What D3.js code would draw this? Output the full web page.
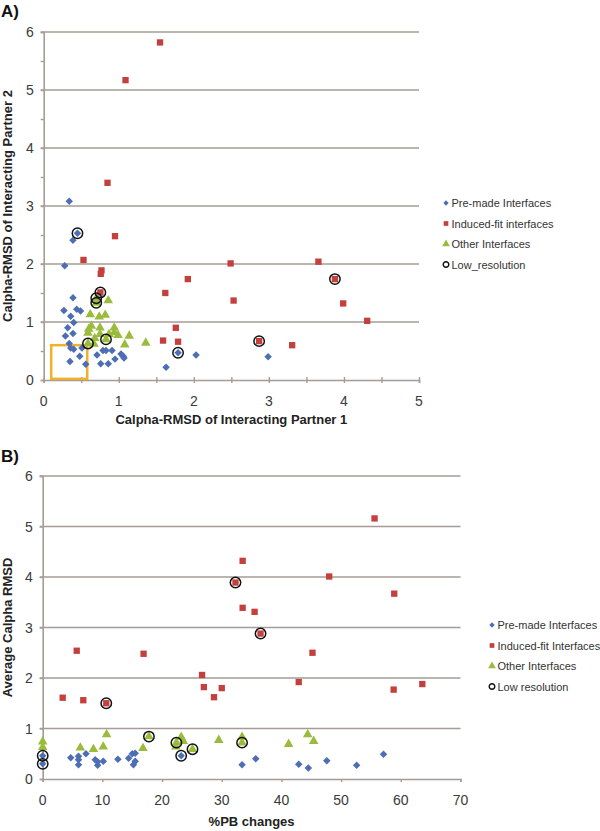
<!DOCTYPE html>
<html>
<head>
<meta charset="utf-8">
<script src="https://cdn.jsdelivr.net/npm/d3@7"></script>
<style>
	body { margin: 0; background: #fff; }
	svg text { font-family: "Liberation Sans", Arial, sans-serif; }
</style>
</head>
<body>
<div id="chart"></div>
<script>
// panel A: Calpha-RMSD partner 1 (x) vs partner 2 (y)
var aPremade = [[0.34,3.08],[0.45,2.53],[0.39,2.41],[0.28,1.97],[0.39,1.42],[0.27,1.20],[0.44,1.22],[0.49,1.19],
	[0.36,1.10],[0.40,0.99],[0.32,0.90],[0.29,0.76],[0.39,0.80],[0.34,0.63],[0.36,0.55],[0.40,0.53],[0.51,0.55],
	[0.48,0.41],[0.35,0.32],[0.56,0.27],[0.71,0.43],[0.76,0.28],[0.79,0.51],[0.83,0.51],[0.86,0.28],[0.91,0.51],
	[0.95,0.36],[1.03,0.45],[1.06,0.41],[1.07,0.38],[1.63,0.22],[1.79,0.47],[2.03,0.43],[2.99,0.40]];
var aInduced = [[1.55,5.82],[1.09,5.17],[0.85,3.40],[0.95,2.48],[0.53,2.07],[0.77,1.89],[0.76,1.83],[0.755,1.51],
	[1.92,1.74],[1.62,1.50],[1.76,0.90],[1.79,0.66],[1.59,0.68],[2.49,2.01],[3.66,2.04],[3.88,1.74],[2.53,1.37],
	[3.99,1.32],[4.31,1.02],[2.87,0.67],[3.31,0.60]];
var aOther = [[0.70,1.41],[0.70,1.33],[0.86,1.37],[0.62,1.13],[0.74,1.09],[0.82,1.12],[0.635,0.93],[0.60,0.88],
	[0.75,0.90],[0.94,0.90],[0.94,0.82],[0.59,0.81],[0.75,0.79],[0.87,0.79],[0.99,0.77],[1.14,0.76],[0.68,0.72],
	[0.83,0.70],[0.59,0.63],[0.67,0.62],[1.08,0.61],[1.36,0.64]];
var aLowRes = [[0.45,2.53],[0.755,1.51],[0.70,1.41],[0.70,1.33],[0.59,0.63],[0.83,0.70],[1.79,0.47],[3.88,1.74],[2.87,0.67]];
var aBox = [0.1, 0.02, 0.58, 0.6]; // x0, y0, x1, y1 in data units

// panel B: %PB changes (x) vs average Calpha RMSD (y)
var bPremade = [[0,0.46],[0,0.30],[4.7,0.42],[6.0,0.45],[6.0,0.38],[6.0,0.28],[7.25,0.50],[8.8,0.38],[9.2,0.27],
	[9.2,0.34],[10.15,0.35],[12.6,0.39],[14.4,0.41],[15.0,0.50],[15.5,0.51],[15.5,0.35],[15.2,0.28],[23.2,0.46],
	[33.4,0.28],[35.7,0.40],[42.9,0.29],[44.5,0.22],[47.6,0.36],[52.6,0.27],[57.1,0.49]];
var bInduced = [[33.5,4.32],[32.3,3.89],[33.5,3.39],[35.5,3.31],[55.6,5.16],[48.0,4.01],[58.9,3.67],[36.5,2.88],
	[5.7,2.54],[16.9,2.48],[3.35,1.61],[6.8,1.56],[10.65,1.50],[26.7,2.06],[27.0,1.82],[28.7,1.62],[30.0,1.80],
	[45.2,2.50],[42.9,1.92],[58.8,1.77],[63.6,1.88]];
var bOther = [[0,0.74],[0,0.63],[6.3,0.62],[8.5,0.59],[10.15,0.64],[10.7,0.88],[16.8,0.61],[17.8,0.84],[22.4,0.72],
	[22.3,0.64],[23.2,0.83],[23.55,0.75],[25.1,0.59],[29.5,0.77],[33.4,0.83],[33.4,0.72],[41.2,0.69],[44.4,0.88],[45.4,0.75]];
var bLowRes = [[0,0.46],[0,0.30],[10.65,1.50],[17.8,0.84],[22.4,0.72],[23.2,0.46],[25.1,0.59],[33.4,0.72],[32.3,3.89],[36.5,2.88]];

var yTicks = [0,1,2,3,4,5,6];
var aXTicks = [0,1,2,3,4,5];
var bXTicks = [0,10,20,30,40,50,60,70];
var legendA = ["Pre-made Interfaces","Induced-fit interfaces","Other Interfaces","Low_resolution"];
var legendB = ["Pre-made Interfaces","Induced-fit Interfaces","Other Interfaces","Low resolution"];

var colors = { premade: "#4d6db5", induced: "#c3403d", other: "#9bbb3c", grid: "#a59c95" };

var svg = d3.select("#chart").append("svg").attr("width", 600).attr("height", 831);

function drawMarkers(g, x, y, data, kind) {
	var sym;
	if (kind == "premade") sym = d3.symbol().type(d3.symbolSquare).size(28);
	else if (kind == "induced") sym = d3.symbol().type(d3.symbolSquare).size(40);
	else sym = d3.symbol().type(d3.symbolTriangle).size(40);
	g.selectAll("path." + kind).data(data).enter().append("path")
		.attr("class", kind)
		.attr("d", sym)
		.attr("transform", function(d) {
			return "translate(" + x(d[0]) + "," + y(d[1]) + ")" + (kind == "premade" ? " rotate(45)" : "");
		})
		.attr("fill", colors[kind]);
}

function drawPanel(opt) {
	var g = svg.append("g");
	var x = opt.x, y = opt.y;
	var x0 = x.range()[0], x1 = x.range()[1];

	// gridlines
	g.selectAll("line.grid").data(yTicks.slice(1)).enter().append("line")
		.attr("x1", x0 - 3).attr("x2", x1)
		.attr("y1", function(d) { return y(d); }).attr("y2", function(d) { return y(d); })
		.attr("stroke", colors.grid).attr("stroke-width", 1.6);

	// y axis
	var yAxis = d3.axisLeft(y).tickValues(opt.yMinor).tickSize(3).tickFormat("");
	var ya = g.append("g").attr("transform", "translate(" + x0 + ",0)").call(yAxis);
	ya.select(".domain").attr("stroke", colors.grid).attr("stroke-width", 1.6);
	ya.selectAll(".tick line").attr("stroke", colors.grid).attr("stroke-width", 1.4);
	g.selectAll("text.ylab").data(yTicks).enter().append("text")
		.attr("x", x0 - 10).attr("y", function(d) { return y(d) + 5; })
		.attr("text-anchor", "end").attr("font-size", 14).attr("fill", "#3a3a3a")
		.text(function(d) { return d; });

	// x axis
	var xa = g.append("g").attr("transform", "translate(0," + y(0) + ")")
		.call(d3.axisBottom(x).tickValues(opt.xTickMarks).tickSize(opt.xTickSize).tickFormat(""));
	xa.select(".domain").attr("stroke", colors.grid).attr("stroke-width", 1.6);
	xa.selectAll(".tick line").attr("stroke", colors.grid).attr("stroke-width", 1.4)
		.attr("y1", opt.xTickUp ? -3 : 0);
	g.selectAll("text.xlab").data(opt.xTicks).enter().append("text")
		.attr("x", function(d) { return x(d); }).attr("y", y(0) + 26)
		.attr("text-anchor", "middle").attr("font-size", 14).attr("fill", "#3a3a3a")
		.text(function(d) { return d; });

	if (opt.box) {
		g.append("rect")
			.attr("x", x(opt.box[0])).attr("y", y(opt.box[3]))
			.attr("width", x(opt.box[2]) - x(opt.box[0])).attr("height", y(opt.box[1]) - y(opt.box[3]))
			.attr("fill", "none").attr("stroke", "#f2b12a").attr("stroke-width", 2.5);
	}

	drawMarkers(g, x, y, opt.premade, "premade");
	drawMarkers(g, x, y, opt.induced, "induced");
	drawMarkers(g, x, y, opt.other, "other");
	g.selectAll("circle.low").data(opt.lowres).enter().append("circle")
		.attr("cx", function(d) { return x(d[0]); }).attr("cy", function(d) { return y(d[1]); })
		.attr("r", 5.2).attr("fill", "none").attr("stroke", "#111").attr("stroke-width", 1.5);

	// titles
	g.append("text").attr("x", 1).attr("y", opt.labelY).attr("font-size", 17).attr("font-weight", "bold")
		.attr("fill", "#111").text(opt.label);
	g.append("text").attr("x", (x0 + x1) / 2).attr("y", opt.xTitleY)
		.attr("text-anchor", "middle").attr("font-size", 13).attr("font-weight", "bold").attr("fill", "#222")
		.text(opt.xTitle);
	g.append("text").attr("transform", "translate(12," + (y(0) + y(6)) / 2 + ") rotate(-90)")
		.attr("text-anchor", "middle").attr("font-size", 13).attr("font-weight", "bold").attr("fill", "#222")
		.text(opt.yTitle);

	// legend
	var lg = g.append("g").attr("transform", "translate(" + opt.legendX + "," + opt.legendY + ")");
	var kinds = ["premade", "induced", "other", "low"];
	opt.legend.forEach(function(name, i) {
		var row = lg.append("g").attr("transform", "translate(0," + (i * 20.5) + ")");
		var k = kinds[i];
		if (k == "low") {
			row.append("circle").attr("r", 2.8).attr("fill", "none").attr("stroke", "#111").attr("stroke-width", 1.4);
		} else {
			var t = k == "other" ? d3.symbolTriangle : d3.symbolSquare;
			var s = k == "premade" ? 14 : (k == "induced" ? 22 : 26);
			row.append("path").attr("d", d3.symbol().type(t).size(s)())
				.attr("transform", k == "premade" ? "rotate(45)" : null)
				.attr("fill", colors[k]);
		}
		row.append("text").attr("x", 5.5).attr("y", 4).attr("font-size", 11).attr("fill", "#333").text(name);
	});
}

drawPanel({
	x: d3.scaleLinear().domain([0, 5]).range([43.7, 419]),
	y: d3.scaleLinear().domain([0, 6]).range([380, 32]),
	xTicks: aXTicks, xTickMarks: d3.range(0, 5.01, 0.5), xTickSize: 3, xTickUp: true,
	yMinor: d3.range(0, 6.01, 0.5),
	premade: aPremade, induced: aInduced, other: aOther, lowres: aLowRes, box: aBox,
	label: "A)", labelY: 17,
	xTitle: "Calpha-RMSD of Interacting Partner 1", xTitleY: 424,
	yTitle: "Calpha-RMSD of Interacting Partner 2",
	legend: legendA, legendX: 446, legendY: 203
});

drawPanel({
	x: d3.scaleLinear().domain([0, 70]).range([42.7, 460.5]),
	y: d3.scaleLinear().domain([0, 6]).range([779, 476]),
	xTicks: bXTicks, xTickMarks: bXTicks, xTickSize: 3, xTickUp: false,
	yMinor: yTicks,
	premade: bPremade, induced: bInduced, other: bOther, lowres: bLowRes, box: null,
	label: "B)", labelY: 462,
	xTitle: "%PB changes", xTitleY: 826,
	yTitle: "Average Calpha RMSD",
	legend: legendB, legendX: 492, legendY: 625
});
</script>
</body>
</html>
